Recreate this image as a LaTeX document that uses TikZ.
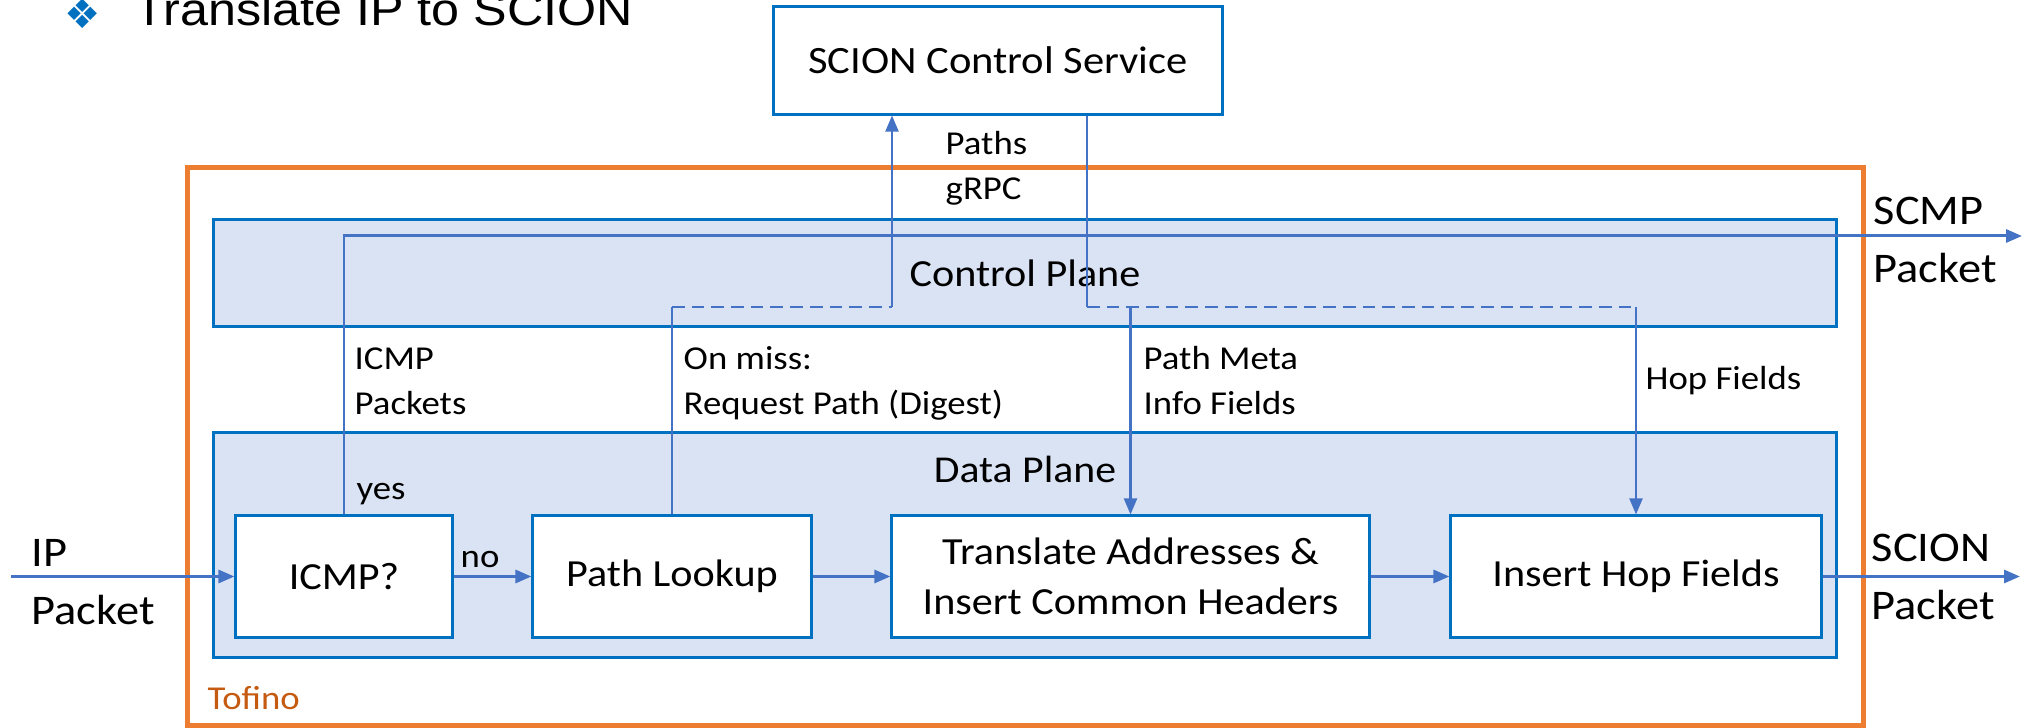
\documentclass[tikz,border=0pt]{standalone}
\usepackage{fontspec}
\setmainfont{Carlito}[FakeStretch=1.1]
\newfontfamily\titlefont{Liberation Sans}[FakeStretch=1.1]
\newfontfamily\bulletfont{DejaVu Sans}
\usetikzlibrary{arrows.meta}

\definecolor{boxblue}{HTML}{0070C0}
\definecolor{lineblue}{HTML}{4472C4}
\definecolor{planefill}{HTML}{DAE3F3}
\definecolor{tofinoline}{HTML}{ED7D31}
\definecolor{tofinotext}{HTML}{C55A11}

\tikzset{
  blk/.style={draw=boxblue, line width=0.85pt, fill=white, minimum height=1.21cm, align=center, font=\fontsize{10.9}{14.2}\selectfont},
  plane/.style={draw=boxblue, line width=0.85pt, fill=planefill, minimum width=16.22cm},
  lbl/.style={anchor=base west, align=left, inner sep=0pt, font=\fontsize{9.5}{12.8}\selectfont},
  pkt/.style={anchor=base west, align=left, inner sep=0pt, font=\fontsize{12}{16.5}\selectfont},
  link/.style={lineblue, line width=0.6pt},
  linkarr/.style={link, -{Triangle[length=0.16cm,width=0.13cm]}},
  flow/.style={lineblue, line width=0.85pt, -{Triangle[length=0.16cm,width=0.13cm]}},
  miss/.style={link, line width=0.7pt, dash pattern=on 3.6pt off 2pt}
}

\begin{document}
\begin{tikzpicture}[x=0.01cm,y=-0.01cm]
\useasboundingbox (0,0) rectangle (2030,728);
\node[font=\bulletfont\fontsize{11.5}{11.5}\selectfont, text=boxblue, inner sep=0pt] (bullet) at (83,14) {❖};
\node[anchor=base west, inner sep=0pt, font=\titlefont\fontsize{13}{13}\selectfont] (title) at (134,26) {Translate IP to SCION};

\node[draw=tofinoline, line width=1.4pt, minimum width=16.75cm, minimum height=5.57cm] (tofino) at (1025.5,446.5) {};
\node[plane, minimum height=1.06cm, font=\fontsize{10.9}{13}\selectfont] (cp) at (1025,273) {Control Plane};
\node[plane, minimum height=2.24cm] (dp) at (1025,545) {};
\node[anchor=base, font=\fontsize{10.8}{13}\selectfont] (dplbl) at (1025,483) {Data Plane};
\node[blk, minimum width=4.48cm, minimum height=1.07cm, font=\fontsize{11}{13}\selectfont] (scs) at (998,60.5) {SCION Control Service};

\node[blk, minimum width=2.16cm] (icmp) at (344,576.5) {ICMP?};
\node[blk, minimum width=2.78cm] (lookup) at (672,576.5) {Path Lookup};
\node[blk, minimum width=4.77cm] (trans) at (1130.5,576.5) {Translate Addresses \&\\Insert Common Headers};
\node[blk, minimum width=3.70cm] (hop) at (1636,576.5) {Insert Hop Fields};

\coordinate (ipin) at (11,576.5);
\coordinate (scionout) at (2020,576.5);
\coordinate (scmpout) at (2022,236);
\coordinate (req) at (672,307);
\coordinate (grpcup) at (892,307);
\coordinate (grpcdown) at (1087,307);
\coordinate (hopbend) at (1636,307);

\draw[flow] (ipin) -- (icmp);
\draw[flow] (icmp) -- (lookup);
\draw[flow] (lookup) -- (trans);
\draw[flow] (trans) -- (hop);
\draw[flow] (hop) -- (scionout);
\draw[flow] (icmp.north) |- (scmpout);
\draw[link] (lookup.north) -- (req);
\draw[miss] (req) -- (grpcup);
\draw[linkarr] (grpcup) -- (grpcup |- scs.south);
\draw[link] (grpcdown |- scs.south) -- (grpcdown);
\draw[miss] (grpcdown) -- (hopbend);
\draw[linkarr] (trans.north |- grpcdown) -- (trans.north);
\draw[linkarr] (hopbend) -- (hop.north);

\node[lbl] (icmplbl) at (354,415) {ICMP\\Packets};
\node[lbl] (misslbl) at (683,415) {On miss:\\Request Path (Digest)};
\node[lbl] (metalbl) at (1143,415) {Path Meta\\Info Fields};
\node[lbl] (hoplbl) at (1645,390) {Hop Fields};
\node[lbl] (grpclbl) at (945,200) {Paths\\gRPC};
\node[lbl] (yeslbl) at (356,500) {yes};
\node[lbl] (nolbl) at (460,568) {no};
\node[pkt] (iplbl) at (31,625) {IP\\Packet};
\node[pkt] (scionlbl) at (1871,620) {SCION\\Packet};
\node[pkt] (scmplbl) at (1873,283) {SCMP\\Packet};
\node[lbl, text=tofinotext] (tofinolbl) at (207,710) {Tofino};
\end{tikzpicture}
\end{document}
